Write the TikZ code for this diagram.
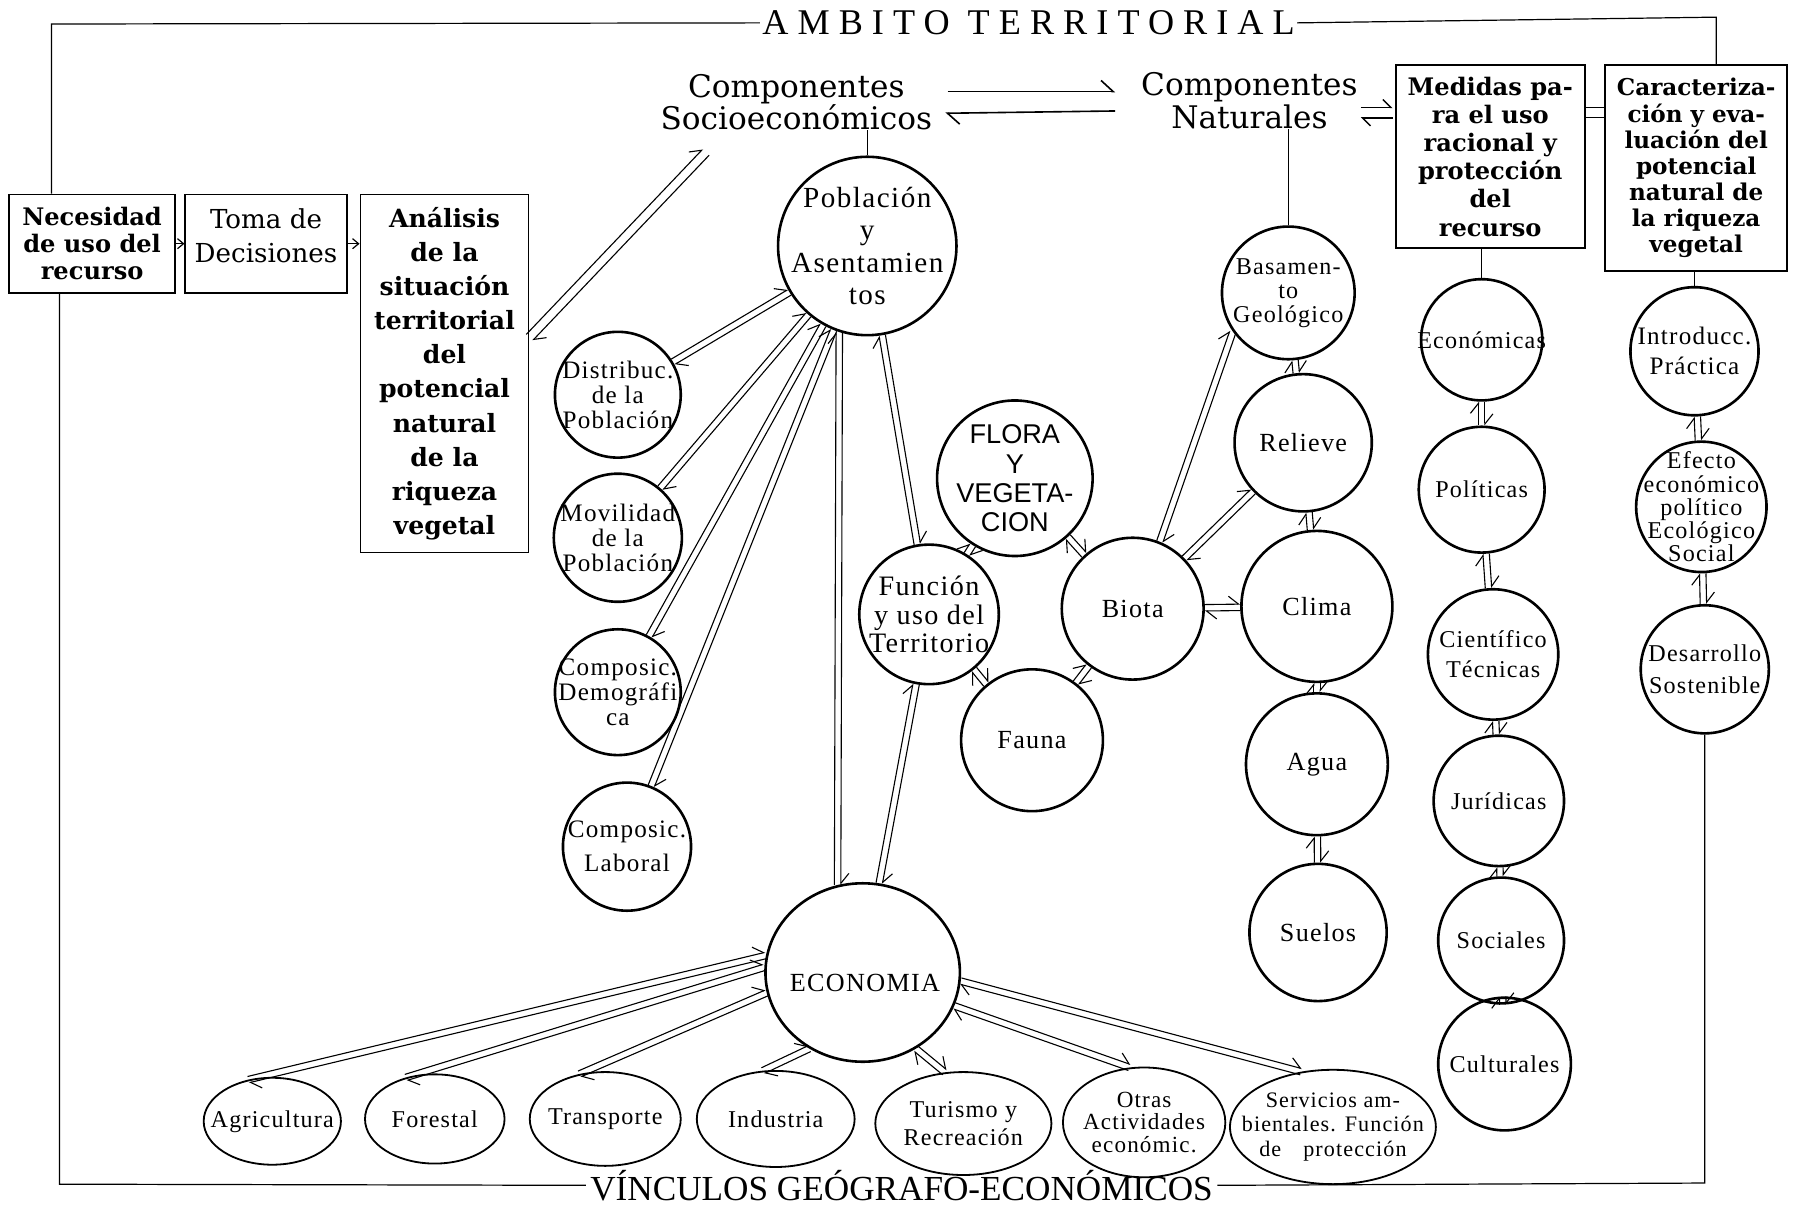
\documentclass[tikz,border=0pt]{standalone}
\usepackage{fontspec}
\setmainfont{DejaVu Serif}
\newfontfamily\libser{Liberation Serif}
\newfontfamily\libsans{Liberation Sans}
\usetikzlibrary{shapes.geometric,arrows.meta,calc}
\newcommand{\myfs}[2]{\fontsize{#1}{#2}\selectfont}
\newcommand{\cfont}[2]{\libser\addfontfeature{LetterSpace=5}\fontsize{#1}{#2}\selectfont}

\tikzset{
  circ/.style={circle, draw, line width=1.3pt, inner sep=0pt},
  ell/.style={ellipse, draw, line width=0.9pt, inner sep=0pt},
  ctext/.style={inner sep=0pt, align=center, font=\cfont{13}{13}},
  bx/.style={draw, rectangle, line width=0.9pt, inner sep=0pt, align=center},
  frame/.style={line width=0.6pt},
  dline/.style={line width=0.55pt, -{Straight Barb[left,length=5pt,width=8pt]}},
  harp/.style={line width=0.8pt, -{Straight Barb[left,length=6pt,width=11pt]}},
  harpS/.style={line width=0.7pt, -{Straight Barb[left,length=4pt,width=8pt]}},
  tinyarrow/.style={line width=0.6pt, -{Straight Barb[length=3pt,width=5pt]}},
}

\newcommand{\cnode}[5][]{%
  \node[circ, minimum size=#4*0.04cm] (#2) at (#3) {};
  \node[ctext, #1] (#2t) at (#2.center) {#5};}
\newcommand{\enode}[6][]{%
  \node[ell, minimum width=#4*0.04cm, minimum height=#5*0.04cm] (#2) at (#3) {};
  \node[ctext, #1] (#2t) at (#2.center) {#6};}
\newcommand{\dlink}[3][1.6pt]{%
  \path (#2) -- (#3) coordinate[pos=0] (dlS) coordinate[pos=1] (dlE);
  \draw[dline] ($(dlS)!#1!90:(dlE)$) -- ($(dlE)!#1!-90:(dlS)$);
  \draw[dline] ($(dlE)!#1!90:(dlS)$) -- ($(dlS)!#1!-90:(dlE)$);}

\begin{document}
\begin{tikzpicture}[x=0.02cm, y=-0.02cm]
\useasboundingbox (0,0) rectangle (1568,1053);
\fill[white] (0,0) rectangle (1568,1053);

% titles
\node[inner sep=1pt, font={\libser\addfontfeature{LetterSpace=25}\myfs{18}{20}}] (ambito) at (899,20) {AMBITO TERRITORIAL};
\node[inner sep=2pt, font={\libser\myfs{17.5}{19}}] (vinc) at (788,1036) {VÍNCULOS GEÓGRAFO-ECONÓMICOS};

% boxes
\node[bx, minimum width=2.9cm, minimum height=1.72cm, font={\bfseries\myfs{12}{13.5}}] (neces) at (80.5,213) {Necesidad\\de uso del\\recurso};
\node[bx, minimum width=2.82cm, minimum height=1.72cm] (toma) at (232.5,213) {};
\node[inner sep=0pt, align=center, font={\myfs{13}{17}}] (tomat) at (232.5,206) {Toma de\\Decisiones};
\node[bx, minimum width=2.94cm, minimum height=6.26cm, font={\bfseries\myfs{12.5}{17}}] (anal) at (388.5,326.5) {Análisis\\de la\\situación\\territorial\\del\\potencial\\natural\\de la\\riqueza\\vegetal};
\node[bx, minimum width=3.3cm, minimum height=3.2cm, font={\bfseries\myfs{12}{14}}] (medidas) at (1302.5,137) {Medidas pa-\\ra el uso\\racional y\\protección\\del\\recurso};
\node[bx, minimum width=3.18cm, minimum height=3.6cm, font={\bfseries\myfs{11.5}{13}}] (caract) at (1482.5,147) {Caracteriza-\\ción y eva-\\luación del\\potencial\\natural de\\la riqueza\\vegetal};

% headings
\node[inner sep=0pt, text width=5.2cm, align=center, font=\myfs{15.5}{16}] (socio) at (696,89) {Componentes\\Socioeconómicos};
\node[inner sep=0pt, text width=4.2cm, align=center, font=\myfs{15.5}{16}] (natur) at (1092,88) {Componentes\\Naturales};

% circles
\cnode[font=\cfont{14.5}{16}]{pob}{758,215}{78}{Población\\y\\Asentamien\\tos}
\cnode[font=\cfont{12.5}{12.5}]{dist}{540,345}{55}{Distribuc.\\de la\\Población}
\cnode[font=\cfont{12.5}{12.5}]{movil}{540,470}{56}{Movilidad\\de la\\Población}
\cnode[font=\cfont{12.5}{12.5}]{demog}{540,605}{55}{Composic.\\Demográfi\\ca}
\cnode[font=\cfont{12.5}{17}]{labor}{548,740}{56}{Composic.\\Laboral}
\cnode[font={\libsans\myfs{13.5}{14.5}}]{flora}{887,418}{68}{FLORA\\Y\\VEGETA-\\CION}
\cnode[font=\cfont{14}{14}]{func}{812,537}{61}{Función\\y uso del\\Territorio}
\cnode{fauna}{902,647}{62}{Fauna}
\cnode{biota}{990,532}{62}{Biota}
\cnode[font=\cfont{12}{12}]{basam}{1126,256}{58}{Basamen-\\to\\Geológico}
\cnode{relieve}{1139,387}{60}{Relieve}
\cnode{clima}{1151,530}{66}{Clima}
\cnode{agua}{1151,668}{62}{Agua}
\cnode{suelos}{1152,815}{60}{Suelos}
\cnode[font=\cfont{12}{12}]{econ}{1295,297}{53}{Económicas}
\cnode[font=\cfont{12}{12}]{polit}{1295,428}{55}{Políticas}
\cnode[font=\cfont{12}{15}]{cient}{1305,572}{57}{Científico\\Técnicas}
\cnode[font=\cfont{12}{12}]{jurid}{1310,700}{57}{Jurídicas}
\cnode[font=\cfont{12}{12}]{social}{1312,822}{55}{Sociales}
\cnode[font=\cfont{12}{12}]{cultur}{1315,930}{58}{Culturales}
\cnode[font=\cfont{12.5}{15}]{intro}{1481,307}{56}{Introducc.\\Práctica}
\cnode[font=\cfont{12}{11.5}]{efecto}{1487,443}{57}{Efecto\\económico\\político\\Ecológico\\Social}
\cnode[font=\cfont{12}{16}]{desarr}{1490,585}{56}{Desarrollo\\Sostenible}

% economia
\node[ell, line width=1.3pt, minimum width=3.4cm, minimum height=3.12cm] (economia) at (754,850) {};
\node[ctext] (economiat) at (756,859) {ECONOMIA};

% bottom ellipses
\enode[font=\cfont{12}{12}]{agric}{238,980}{60}{38}{Agricultura}
\enode[font=\cfont{12}{12}]{forest}{380,978}{61}{39}{Forestal}
\enode[font=\cfont{12}{12}]{transp}{529,978}{66}{41}{Transporte}
\enode[font=\cfont{12}{12}]{indust}{678,978}{69}{42}{Industria}
\enode[font=\cfont{12}{14}]{turismo}{842,982}{77}{45}{Turismo y\\Recreación}
\enode[font=\cfont{11.5}{11}]{otras}{1000,981}{71}{48}{Otras\\Actividades\\económic.}
\enode[font=\cfont{11}{12}]{servic}{1165,985}{90}{50}{Servicios am-\\bientales. Función\\de\quad protección}

% frame
\coordinate (fTL) at (45,21);
\coordinate (fTR) at (1500,15);
\coordinate (fBL) at (52,1035);
\coordinate (fBR) at (1490,1034);
\draw[frame] (neces.north -| fTL) -- (fTL) -- (ambito.west);
\draw[frame] (ambito.east) -- (fTR) -- (caract.north -| fTR);
\draw[frame] (neces.south -| fBL) -- (fBL) -- (vinc.west);
\draw[frame] (vinc.east) -- (fBR) -- (desarr.south -| fBR);

% plain connectors
\draw[frame] (pob.north) -- (pob.north |- socio.south);
\draw[frame] (basam.north) -- (basam.north |- natur.south);
\draw[frame] (econ.north) -- (econ.north |- medidas.south);
\draw[frame] (intro.north) -- (intro.north |- caract.south);
\draw[tinyarrow] (neces.east) -- (toma.west);
\draw[tinyarrow] (toma.east) -- (toma.east -| anal.west);

% harpoons
\draw[harp] ($(socio.east)+(2,-9)$) -- ($(natur.west)+(-12,-8)$);
\draw[harp] ($(natur.west)+(-12,9)$) -- ($(socio.east)+(0,10)$);
\draw[harpS] ($(natur.east)+(-8,6)$) -- ($(medidas.west)+(-2,-43)$);
\draw[harpS] ($(medidas.west)+(-2,-34)$) -- ($(natur.east)+(-8,15)$);
\draw[frame] ($(medidas.east)+(0,-43)$) -- ($(caract.west)+(0,-53)$);
\draw[frame] ($(medidas.east)+(0,-34)$) -- ($(caract.west)+(0,-44)$);

% double links
\coordinate (socioL) at (617,133);
\dlink[2.2pt]{anal.23}{socioL}
\dlink{dist}{pob}
\dlink{movil}{pob}
\dlink{demog}{pob}
\dlink{labor}{pob}
\dlink{pob.252}{economia.106}
\dlink{pob}{func}
\dlink{func}{economia}
\dlink{func}{flora}
\dlink{func}{fauna}
\dlink{flora}{biota}
\dlink{fauna}{biota}
\dlink{biota}{clima}
\dlink{biota}{relieve}
\dlink{biota.68}{basam.215}
\dlink{basam}{relieve}
\dlink{relieve}{clima}
\dlink{clima}{agua}
\dlink{agua}{suelos}
\dlink{econ}{polit}
\dlink{polit}{cient}
\dlink{cient}{jurid}
\dlink{jurid}{social}
\dlink{social}{cultur}
\dlink{intro}{efecto}
\dlink{efecto}{desarr}
\dlink{economia.170}{agric.120}
\dlink{economia.177}{forest.125}
\dlink{economia.192}{transp.120}
\dlink{economia.235}{indust.105}
\dlink{economia.305}{turismo.110}
\dlink{economia.340}{otras.105}
\dlink{economia.355}{servic.120}
\end{tikzpicture}
\end{document}
